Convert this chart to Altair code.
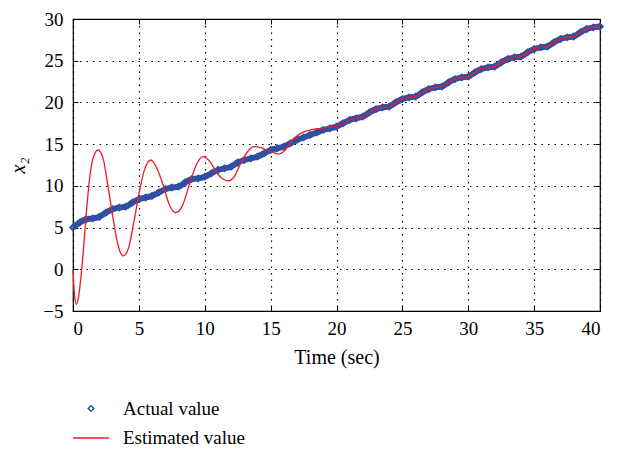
import altair as alt
import pandas as pd
import numpy as np

# ---------------- data ----------------
time_actual = list(np.arange(0, 40.5, 0.5))
actual_values = [
    5.0, 5.6, 6.0, 6.1, 6.3, 6.8, 7.2, 7.4, 7.5, 8.0,
    8.4, 8.6, 8.8, 9.2, 9.6, 9.8, 9.9, 10.4, 10.8, 10.9,
    11.1, 11.5, 11.9, 12.1, 12.3, 12.8, 13.1, 13.3, 13.5, 13.9,
    14.3, 14.5, 14.7, 15.1, 15.5, 15.8, 16.1, 16.4, 16.7, 16.9,
    17.1, 17.5, 17.9, 18.1, 18.3, 18.8, 19.2, 19.4, 19.5, 20.0,
    20.4, 20.6, 20.7, 21.2, 21.6, 21.8, 21.9, 22.4, 22.8, 23.0,
    23.1, 23.6, 24.0, 24.2, 24.3, 24.8, 25.2, 25.4, 25.5, 26.0,
    26.4, 26.6, 26.7, 27.2, 27.6, 27.8, 27.9, 28.4, 28.8, 29.0,
    29.1,
]

time_est = [
    0.0, 0.1, 0.25, 0.4, 0.6, 0.8, 1.0, 1.2, 1.5, 1.9,
    2.3, 2.6, 3.0, 3.4, 3.8, 4.2, 4.6, 5.0, 5.4, 5.9,
    6.4, 6.9, 7.3, 7.8, 8.3, 8.8, 9.3, 9.85, 10.4, 10.9,
    11.4, 11.8, 12.2, 12.7, 13.2, 13.7, 14.2, 14.7, 15.2, 15.6,
    16.1, 16.6, 17.2, 17.8, 18.3, 18.8, 19.3,
    20.0, 20.5, 21.0, 21.5, 22.0, 22.5, 23.0, 23.5, 24.0, 24.5,
    25.0, 25.5, 26.0, 26.5, 27.0, 27.5, 28.0, 28.5, 29.0, 29.5,
    30.0, 30.5, 31.0, 31.5, 32.0, 32.5, 33.0, 33.5, 34.0, 34.5,
    35.0, 35.5, 36.0, 36.5, 37.0, 37.5, 38.0, 38.5, 39.0, 39.5,
    40.0,
]
est_values = [
    0.0, -2.8, -4.2, -3.5, -1.0, 2.5, 6.5, 10.0, 13.2, 14.3,
    13.2, 10.5, 6.5, 3.0, 1.6, 2.5, 5.5, 9.0, 11.8, 13.1,
    12.0, 9.8, 7.8, 6.8, 7.6, 10.0, 12.3, 13.5, 12.9, 11.6,
    10.8, 10.6, 11.0, 12.6, 14.0, 14.7, 14.6, 14.3, 14.0, 13.8,
    14.3, 15.4, 16.2, 16.6, 16.8, 16.9, 17.0,
    17.2, 17.5, 17.9, 18.1, 18.3, 18.8, 19.2, 19.4, 19.5, 20.0,
    20.4, 20.6, 20.7, 21.2, 21.6, 21.8, 21.9, 22.4, 22.8, 23.0,
    23.1, 23.6, 24.0, 24.2, 24.3, 24.8, 25.2, 25.4, 25.5, 26.0,
    26.4, 26.6, 26.7, 27.2, 27.6, 27.8, 27.9, 28.4, 28.8, 29.0,
    29.1,
]

x_ticks = [0, 5, 10, 15, 20, 25, 30, 35, 40]
y_ticks = [-5, 0, 5, 10, 15, 20, 25, 30]
series_names = ["Actual value", "Estimated value"]
series_colors = ["#2f4fa3", "#ee1c25"]

df_a = pd.DataFrame({"t": time_actual, "v": actual_values, "series": series_names[0]})
df_e = pd.DataFrame({"t": time_est, "v": est_values, "series": series_names[1]})

FONT = "Liberation Serif"
xscale = alt.Scale(domain=[0, 40], nice=False, zero=False)
yscale = alt.Scale(domain=[-5, 30], nice=False, zero=False)

grid_kw = dict(grid=True, gridDash=[1.5, 5], gridColor="#000000", gridWidth=1.2, gridOpacity=1)

x_main = alt.X(
    "t:Q", scale=xscale,
    axis=alt.Axis(values=x_ticks, title="Time (sec)", orient="bottom", offset=-5,
                  tickSize=5, tickColor="#000", tickWidth=1, domain=False,
                  labelPadding=8, labelFont=FONT, labelFontSize=19, labelColor="#000",
                  titleFont=FONT, titleFontSize=20, titleFontWeight="normal",
                  titleColor="#000", titlePadding=9, **grid_kw),
)
y_main = alt.Y(
    "v:Q", scale=yscale,
    axis=alt.Axis(values=y_ticks, title="x₂", orient="left", offset=-5,
                  tickSize=5, tickColor="#000", tickWidth=1, domain=False,
                  labelPadding=10, labelFont=FONT, labelFontSize=19, labelColor="#000",
                  titleFont=FONT, titleFontSize=20, titleFontWeight="normal",
                  titleFontStyle="italic", titleColor="#000", titlePadding=14, **grid_kw),
)
x_top = alt.X(
    "t:Q", scale=xscale,
    axis=alt.Axis(values=x_ticks, title=None, orient="top", offset=-5, tickSize=5,
                  tickColor="#000", labels=False, domain=False, grid=False),
)
y_right = alt.Y(
    "v:Q", scale=yscale,
    axis=alt.Axis(values=y_ticks, title=None, orient="right", offset=-5, tickSize=5,
                  tickColor="#000", labels=False, domain=False, grid=False),
)

points = alt.Chart(df_a).mark_point(filled=False, strokeWidth=2, opacity=1).encode(
    x=x_top,
    y=y_right,
    color=alt.Color("series:N", scale=alt.Scale(domain=series_names, range=series_colors),
                    legend=alt.Legend(title=None, orient="none", legendX=-1, legendY=380,
                                      direction="vertical", labelFont=FONT,
                                      labelFontSize=19, labelColor="#000",
                                      labelOffset=13, rowPadding=-9,
                                      symbolStrokeWidth=1.5)),
    shape=alt.Shape("series:N", scale=alt.Scale(domain=series_names, range=["diamond", "stroke"])),
    size=alt.Size("series:N", scale=alt.Scale(domain=series_names, range=[30, 1296])),
)

line_a = alt.Chart(df_a).mark_line(color=series_colors[0], strokeWidth=6,
                                   interpolate="monotone").encode(x=x_main, y=y_main)
line_e = alt.Chart(df_e).mark_line(color=series_colors[1], strokeWidth=1.3,
                                   interpolate="monotone").encode(
    x=alt.X("t:Q", scale=xscale, axis=None),
    y=alt.Y("v:Q", scale=yscale, axis=None),
)

chart = alt.layer(points, line_a, line_e).resolve_axis(
    x="independent", y="independent"
).properties(
    width=527, height=292,
    autosize=alt.AutoSizeParams(type="none"),
    padding={"left": 73, "top": 19, "right": 22, "bottom": 139},
).configure_view(stroke="#000000", strokeWidth=1.2)

chart.save("out.html", embed_options={"renderer": "svg", "actions": False})
